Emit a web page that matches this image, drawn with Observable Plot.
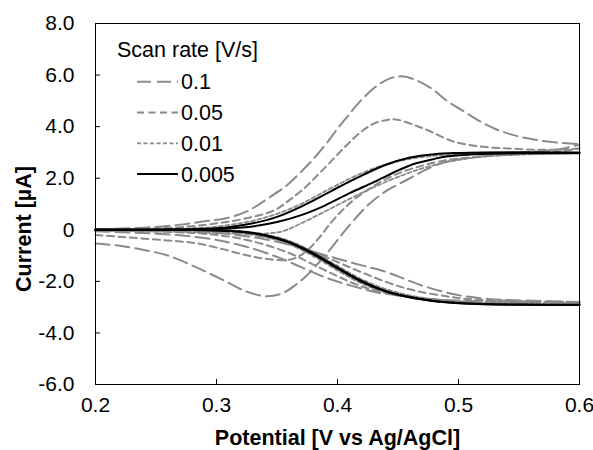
<!DOCTYPE html>
<html>
<head>
<meta charset="utf-8">
<script src="https://cdn.jsdelivr.net/npm/d3@7"></script>
<script src="https://cdn.jsdelivr.net/npm/@observablehq/plot@0.6"></script>
<style>
  html, body { margin: 0; padding: 0; background: #fff; }
  #wrap { position: relative; width: 593px; height: 450px; }
  #legend { position: absolute; left: 0; top: 0; }
</style>
</head>
<body>
<div id="wrap"></div>
<script>
// ---------- data (potential V, current µA) ----------
const rates = ["0.1", "0.05", "0.01", "0.005"];
const xTicks = [0.2, 0.3, 0.4, 0.5, 0.6];
const yTicks = [-6, -4, -2, 0, 2, 4, 6, 8];

// scan rate 0.1 V/s
const r01_genFwd = [[0.2,0.02],[0.24,0.08],[0.27,0.2],[0.29,0.33],[0.31,0.47],[0.3255,0.72],[0.342,1.2],[0.3585,1.74],[0.372,2.35],[0.383,2.9],[0.392,3.42],[0.40,3.92],[0.408,4.38],[0.419,5.0],[0.433,5.6],[0.444,5.88],[0.452,5.95],[0.462,5.86],[0.477,5.5],[0.491,4.98],[0.5045,4.59],[0.518,4.2],[0.532,3.88],[0.5515,3.6],[0.5736,3.42],[0.6,3.32]];
const r01_genRev = [[0.2,-0.53],[0.22,-0.62],[0.24,-0.78],[0.26,-1.0],[0.283,-1.45],[0.3075,-2.0],[0.325,-2.4],[0.342,-2.58],[0.355,-2.45],[0.365,-2.15],[0.375,-1.75],[0.385,-1.25],[0.395,-0.7],[0.405,-0.1],[0.415,0.45],[0.425,0.95],[0.44,1.5],[0.458,1.95],[0.477,2.42],[0.491,2.65],[0.518,2.84],[0.54,2.95],[0.56,3.02],[0.58,3.1],[0.6,3.3]];
const r01_colA = [[0.2,-0.02],[0.25,-0.05],[0.3,-0.12],[0.32,-0.22],[0.34,-0.37],[0.361,-0.59],[0.38,-0.85],[0.40,-1.12],[0.42,-1.38],[0.44,-1.63],[0.455,-1.9],[0.469,-2.15],[0.487,-2.4],[0.504,-2.57],[0.525,-2.68],[0.546,-2.73],[0.575,-2.77],[0.6,-2.8]];
const r01_colB = [[0.2,-0.06],[0.25,-0.15],[0.29,-0.32],[0.32,-0.6],[0.35,-1.05],[0.37,-1.45],[0.39,-1.85],[0.41,-2.15],[0.43,-2.4],[0.45,-2.55],[0.47,-2.66],[0.5,-2.75],[0.55,-2.8],[0.6,-2.82]];

// scan rate 0.05 V/s
const r005_genFwd = [[0.2,0.0],[0.25,0.05],[0.28,0.14],[0.30,0.25],[0.32,0.4],[0.3475,0.75],[0.361,1.18],[0.375,1.72],[0.386,2.24],[0.397,2.77],[0.408,3.3],[0.419,3.78],[0.43,4.12],[0.441,4.26],[0.448,4.28],[0.463,4.07],[0.477,3.81],[0.496,3.42],[0.518,3.23],[0.546,3.14],[0.575,3.1],[0.6,3.15]];
const r005_genRev = [[0.2,-0.2],[0.22,-0.27],[0.25,-0.38],[0.27,-0.45],[0.287,-0.55],[0.305,-0.75],[0.324,-0.98],[0.34,-1.12],[0.355,-1.18],[0.365,-1.1],[0.375,-0.8],[0.385,-0.3],[0.395,0.3],[0.405,0.8],[0.415,1.22],[0.43,1.7],[0.445,2.08],[0.465,2.42],[0.49,2.7],[0.52,2.85],[0.55,2.93],[0.58,3.02],[0.6,3.15]];
const r005_colA = [[0.2,0.0],[0.3,-0.05],[0.33,-0.2],[0.36,-0.5],[0.38,-0.85],[0.40,-1.25],[0.42,-1.65],[0.44,-2.02],[0.455,-2.25],[0.469,-2.41],[0.49,-2.58],[0.504,-2.67],[0.53,-2.74],[0.56,-2.78],[0.6,-2.8]];
const r005_colB = [[0.2,-0.03],[0.26,-0.08],[0.30,-0.2],[0.33,-0.45],[0.36,-0.9],[0.38,-1.35],[0.40,-1.8],[0.42,-2.2],[0.44,-2.45],[0.46,-2.6],[0.48,-2.7],[0.5,-2.76],[0.55,-2.8],[0.6,-2.82]];

// scan rate 0.01 V/s
const r001_genFwd = [[0.2,0.0],[0.26,0.02],[0.28,0.06],[0.30,0.12],[0.33,0.35],[0.35,0.62],[0.37,1.0],[0.39,1.5],[0.41,1.98],[0.43,2.38],[0.45,2.65],[0.47,2.82],[0.50,2.92],[0.55,2.95],[0.6,2.96]];
const r001_genRev = [[0.2,-0.03],[0.25,-0.06],[0.29,-0.1],[0.32,-0.15],[0.34,-0.15],[0.355,-0.05],[0.37,0.25],[0.39,0.72],[0.41,1.2],[0.43,1.65],[0.45,2.05],[0.47,2.38],[0.49,2.62],[0.51,2.78],[0.53,2.87],[0.56,2.93],[0.6,2.96]];
const r001_colA = [[0.2,0],[0.30,-0.04],[0.32,-0.1],[0.34,-0.26],[0.36,-0.56],[0.38,-1.02],[0.40,-1.58],[0.42,-2.08],[0.44,-2.42],[0.46,-2.62],[0.48,-2.74],[0.50,-2.81],[0.53,-2.85],[0.6,-2.87]];
const r001_colB = [[0.2,0],[0.30,-0.02],[0.32,-0.06],[0.34,-0.18],[0.36,-0.43],[0.38,-0.86],[0.40,-1.4],[0.42,-1.92],[0.44,-2.3],[0.46,-2.55],[0.48,-2.7],[0.50,-2.78],[0.53,-2.84],[0.6,-2.87]];

// scan rate 0.005 V/s
const r0005_genFwd = [[0.2,0],[0.26,0.01],[0.29,0.04],[0.31,0.1],[0.33,0.25],[0.35,0.5],[0.37,0.9],[0.39,1.38],[0.40,1.63],[0.42,2.1],[0.44,2.52],[0.46,2.8],[0.48,2.93],[0.50,2.98],[0.52,3.0],[0.6,3.0]];
const r0005_genRev = [[0.2,0],[0.29,0.02],[0.31,0.05],[0.33,0.13],[0.35,0.3],[0.37,0.57],[0.39,0.95],[0.41,1.42],[0.43,1.85],[0.45,2.3],[0.463,2.55],[0.48,2.75],[0.49,2.84],[0.51,2.92],[0.55,2.97],[0.6,2.98]];
const r0005_colA = [[0.2,0],[0.28,-0.01],[0.30,-0.03],[0.32,-0.08],[0.34,-0.22],[0.36,-0.5],[0.38,-0.95],[0.40,-1.5],[0.42,-2.02],[0.44,-2.4],[0.46,-2.63],[0.48,-2.77],[0.50,-2.85],[0.52,-2.89],[0.55,-2.91],[0.6,-2.92]];
const r0005_colB = [[0.2,0],[0.28,-0.01],[0.30,-0.02],[0.32,-0.07],[0.34,-0.2],[0.36,-0.47],[0.38,-0.91],[0.40,-1.46],[0.42,-1.98],[0.44,-2.37],[0.46,-2.61],[0.48,-2.76],[0.50,-2.84],[0.52,-2.88],[0.55,-2.9],[0.6,-2.91]];

const branches = {
  "0.1":   [r01_genFwd, r01_genRev, r01_colA, r01_colB],
  "0.05":  [r005_genFwd, r005_genRev, r005_colA, r005_colB],
  "0.01":  [r001_genFwd, r001_genRev, r001_colA, r001_colB],
  "0.005": [r0005_genFwd, r0005_genRev, r0005_colA, r0005_colB]
};

// ---------- styles ----------
const FONT = "'Liberation Sans', Arial, sans-serif";
const GRAY = "#8a8a8a";
const styleOf = {
  "0.1":   {stroke: GRAY, strokeWidth: 2, dash: "14,6"},
  "0.05":  {stroke: GRAY, strokeWidth: 2, dash: "7,4.5"},
  "0.01":  {stroke: GRAY, strokeWidth: 1.8, dash: "4,2.5"},
  "0.005": {stroke: "#000", strokeWidth: 2, dash: null}
};

const rows = [];
for (const r of rates) {
  branches[r].forEach((b, i) => b.forEach(([V, I]) => rows.push({rate: r, id: r + "_" + i, V, I})));
}

const lineMarks = rates.map(r => Plot.line(rows.filter(d => d.rate === r), {
  x: "V", y: "I", z: "id",
  stroke: styleOf[r].stroke, strokeWidth: styleOf[r].strokeWidth,
  strokeDasharray: styleOf[r].dash, curve: "catmull-rom"
}));

const chart = Plot.plot({
  width: 593, height: 450,
  marginLeft: 95, marginRight: 14, marginTop: 23, marginBottom: 66,
  style: {fontFamily: FONT, fontSize: "21px", color: "#000", background: "#fff", overflow: "visible"},
  x: {domain: [0.2, 0.6]},
  y: {domain: [-6, 8]},
  marks: [
    ...lineMarks,
    Plot.frame({stroke: "#000", strokeWidth: 1}),
    Plot.axisX(xTicks, {tickSize: -5, tickPadding: 18, tickFormat: d3.format(".1f"), label: null, fontSize: 21}),
    Plot.axisY(yTicks, {tickSize: -5, tickPadding: 26, tickFormat: d => d === 0 ? "0" : d.toFixed(1), label: null, fontSize: 21}),
    Plot.text(["Potential [V vs Ag/AgCl]"], {frameAnchor: "bottom", dy: 54, fontWeight: "bold", fontSize: 21.5, lineAnchor: "middle"})
  ]
});

const wrap = document.getElementById("wrap");
wrap.appendChild(chart);

// ---------- overlay: y-axis title and legend ----------
const ov = d3.select(wrap).append("svg")
  .attr("id", "legend").attr("width", 593).attr("height", 450)
  .style("font-family", FONT).style("font-size", "21.5px");
ov.append("text").attr("transform", "translate(23,229) rotate(-90)")
  .attr("text-anchor", "middle").attr("dy", "0.35em")
  .attr("font-weight", "bold").text("Current [µA]");
ov.append("text").attr("x", 117).attr("y", 49).attr("dy", "0.35em").text("Scan rate [V/s]");
rates.forEach((r, i) => {
  const y = 81.7 + i * 30.8;
  ov.append("line").attr("x1", 137).attr("x2", 178).attr("y1", y).attr("y2", y)
    .attr("stroke", styleOf[r].stroke).attr("stroke-width", styleOf[r].strokeWidth)
    .attr("stroke-dasharray", styleOf[r].dash);
  ov.append("text").attr("x", 181).attr("y", y).attr("dy", "0.35em").text(r);
});
</script>
</body>
</html>
